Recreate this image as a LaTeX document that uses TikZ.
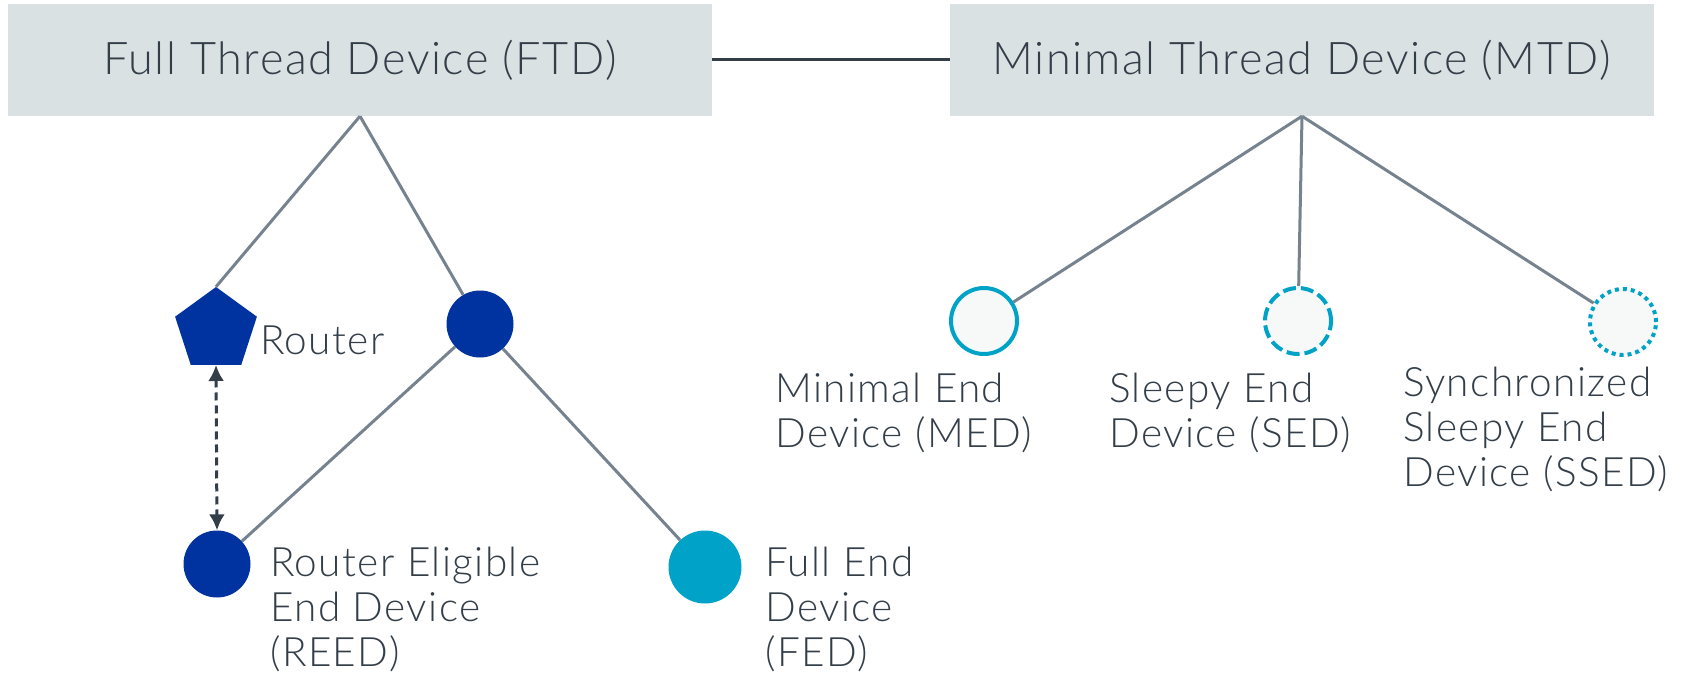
\documentclass[tikz,border=0pt]{standalone}
\usepackage{fontspec}
\setmainfont{Lato}[UprightFont=* Light, LetterSpace=3.5]
\usepackage{xcolor}
\usetikzlibrary{shapes.geometric, positioning, arrows.meta}

\definecolor{boxgrey}{HTML}{D9E1E3}
\definecolor{linegrey}{HTML}{76838F}
\definecolor{txtdark}{HTML}{333E48}
\definecolor{navy}{HTML}{0033A0}
\definecolor{threadcyan}{HTML}{00A3C7}
\definecolor{palefill}{HTML}{F7F8F8}

\begin{document}
\begin{tikzpicture}[x=1pt, y=-1pt, >={Latex[length=16pt, width=16pt]}]
	\tikzstyle{box} = [fill=boxgrey, text=txtdark, minimum width=704, minimum height=112, font=\fontsize{45}{54}\selectfont]
	\tikzstyle{link} = [draw=linegrey, line width=3pt]
	\tikzstyle{dev} = [circle, inner sep=0pt, minimum size=67]
	\tikzstyle{lbl} = [anchor=west, align=left, inner sep=0pt, text=txtdark, font=\fontsize{40.5}{45}\selectfont]
	\useasboundingbox (0,0) rectangle (1684,674);
	% the two device classes
	\node[box] (ftd) at (360,60) {\raisebox{-4pt}{Full Thread Device (FTD)}};
	\node[box] (mtd) at (1302,60) {\raisebox{-4pt}{Minimal Thread Device (MTD)}};
	\draw[txtdark, line width=3pt] (ftd) -- (mtd);
	% full devices
	\node[regular polygon, regular polygon sides=5, fill=navy, inner sep=0pt, minimum size=86] (router) at (216,330) {};
	\node[dev, fill=navy] (hub) at (480,324) {};
	\node[dev, fill=navy] (reed) at (217,564) {};
	\node[dev, fill=threadcyan, minimum size=73] (fed) at (705,567) {};
	\node[lbl] (routerlbl) at (260,340) {Router};
	\node[lbl] (reedlbl) at (270,609) {Router Eligible\\End Device\\(REED)};
	\node[lbl] (fedlbl) at (765,609) {Full End\\Device\\(FED)};
	\draw[link] (ftd.south) -- (router.corner 1);
	\draw[link] (ftd.south) -- (hub);
	\draw[link] (hub) -- (reed);
	\draw[link] (hub) -- (fed);
	\draw[<->, txtdark, line width=3pt, dash pattern=on 8pt off 5pt] (router.south) -- (reed.north);
	% minimal devices
	\node[dev, fill=palefill, draw=threadcyan, line width=4pt, minimum size=66] (med) at (984,321) {};
	\node[dev, fill=palefill, draw=threadcyan, line width=4pt, minimum size=66, dash pattern=on 13pt off 5pt] (sed) at (1298,321) {};
	\node[dev, fill=palefill, draw=threadcyan, line width=4pt, minimum size=66, dash pattern=on 4pt off 4pt] (ssed) at (1623,322) {};
	\node[lbl] (medlbl) at (775,413) {Minimal End\\Device (MED)};
	\node[lbl] (sedlbl) at (1109,413) {Sleepy End\\Device (SED)};
	\node[lbl] (ssedlbl) at (1403,429) {Synchronized\\Sleepy End\\Device (SSED)};
	\draw[link] (mtd.south) -- (med);
	\draw[link] (mtd.south) -- (sed);
	\draw[link] (mtd.south) -- (ssed);
\end{tikzpicture}
\end{document}
